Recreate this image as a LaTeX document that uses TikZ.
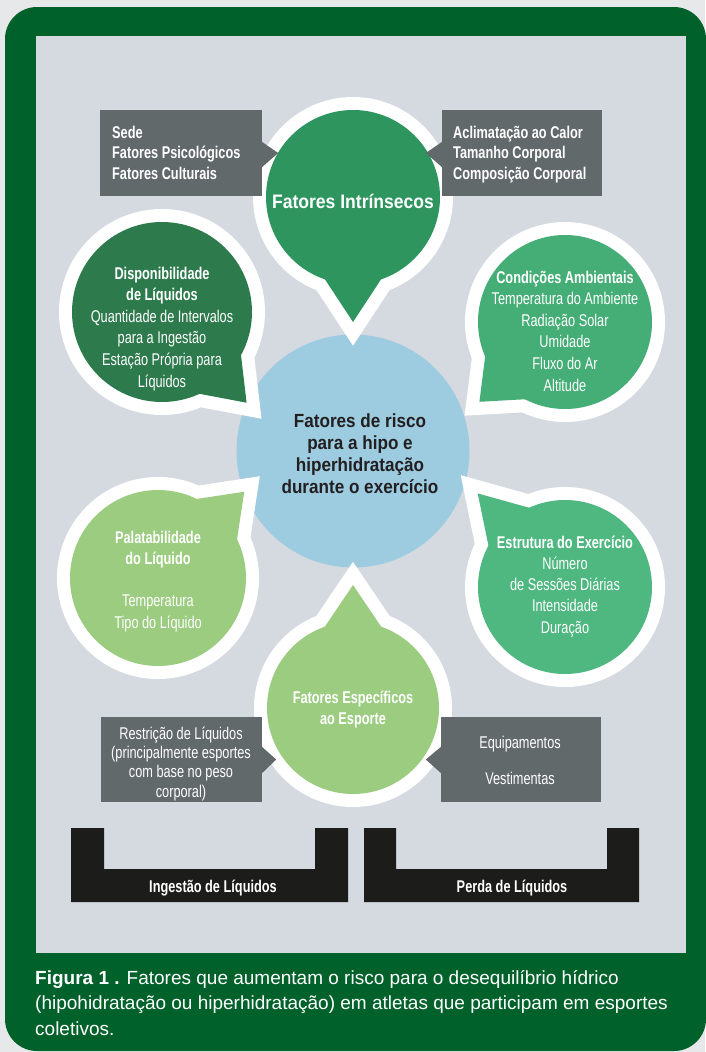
\documentclass[tikz,border=0pt]{standalone}
\usepackage{fontspec}
\setmainfont{Liberation Sans}
\newfontfamily\condfont{Liberation Sans}[FakeStretch=0.75]
\newfontfamily\semicondfont{Liberation Sans}[FakeStretch=0.9]
\usetikzlibrary{calc}

\definecolor{pagebg}{RGB}{231,232,234}
\definecolor{framegreen}{RGB}{0,98,42}
\definecolor{panelgray}{RGB}{213,217,224}
\definecolor{boxgray}{RGB}{98,105,107}
\definecolor{intrgreen}{RGB}{47,149,95}
\definecolor{dispgreen}{RGB}{45,122,76}
\definecolor{ambgreen}{RGB}{69,174,118}
\definecolor{exgreen}{RGB}{78,184,128}
\definecolor{lightgreen}{RGB}{155,204,128}
\definecolor{hubblue}{RGB}{157,203,224}
\definecolor{hubtext}{RGB}{35,31,32}
\definecolor{bracketblack}{RGB}{28,29,27}

% speech bubble: centre x, centre y, tail angle, radius, tail tip distance,
% tail half width at the rim, fill colour; white rim 13pt wide
\newcommand\speechbubble[7]{%
  \begin{scope}[shift={(#1,#2)},rotate=#3]
    \pgfmathsetmacro\halfang{atan2(#6,#5-#4)}
    \pgfmathsetmacro\basex{#4-30}
    \pgfmathsetmacro\basew{#6*(#5-#4+30)/(#5-#4)}
    \pgfmathsetmacro\rimtip{#5+13/sin(\halfang)}
    \pgfmathsetmacro\rimw{\basew+13/cos(\halfang)}
    \pgfmathsetmacro\rimr{#4+13}
    \fill[white] (0,0) circle[radius=\rimr pt];
    \fill[white] (\rimtip,0) -- (\basex,\rimw) -- (\basex,-\rimw) -- cycle;
    \fill[#7] (0,0) circle[radius=#4pt];
    \fill[#7] (#5,0) -- (\basex,\basew) -- (\basex,-\basew) -- cycle;
  \end{scope}}

% multi-line nodes below are placed by the baseline of their last line
\tikzset{
  infobox/.style={fill=boxgray, inner sep=0pt, minimum height=86pt},
  boxbold/.style={font=\condfont\bfseries\fontsize{17}{20.5}\selectfont, text=white, inner sep=0pt},
  boxplain/.style={font=\condfont\fontsize{17}{19.3}\selectfont, text=white, inner sep=0pt, align=center},
  bubbletext/.style={font=\condfont\fontsize{17}{21.6}\selectfont, text=white, inner sep=0pt, align=center, anchor=base},
  bracketlabel/.style={font=\condfont\bfseries\fontsize{17}{20}\selectfont, text=white, inner sep=0pt, anchor=base},
}

\begin{document}
\begin{tikzpicture}[x=1pt,y=-1pt]
\useasboundingbox (0,0) rectangle (705,1052);
\fill[pagebg] (0,0) rectangle (705,1052);
\fill[framegreen, rounded corners=32pt] (5,7) rectangle (706,1051);
\fill[panelgray] (36,36) rectangle (686,953);

% central circle
\node[circle, fill=hubblue, minimum size=233pt, inner sep=0pt] (hub) at (353,451) {};

% surrounding speech bubbles
\speechbubble{353}{197}{-90}{87}{125}{25}{intrgreen}
\speechbubble{162}{312}{-47}{90}{124}{25}{dispgreen}
\speechbubble{565}{322}{-137}{87}{117}{25}{ambgreen}
\speechbubble{158}{578}{45}{88}{122}{25}{lightgreen}
\speechbubble{565}{587}{133}{87}{128}{25}{exgreen}
\speechbubble{353}{708}{90}{86}{123}{25}{lightgreen}

% grey side boxes with pointers
\node[infobox, minimum width=162pt] (sedebox) at (181,153) {};
\fill[boxgray] ([yshift=11pt]sedebox.east) -- ([xshift=16pt]sedebox.east) -- ([yshift=-14pt]sedebox.east) -- cycle;
\node[infobox, minimum width=160pt] (calorbox) at (522,153) {};
\fill[boxgray] ([yshift=11pt]calorbox.west) -- ([xshift=-16pt]calorbox.west) -- ([yshift=-14pt]calorbox.west) -- cycle;
\node[infobox, minimum width=161pt, minimum height=85pt] (restrbox) at (181.5,759.5) {};
\fill[boxgray] ([yshift=12.5pt]restrbox.east) -- ([xshift=14pt]restrbox.east) -- ([yshift=-13.5pt]restrbox.east) -- cycle;
\node[infobox, minimum width=160pt, minimum height=85pt] (equipbox) at (521,759.5) {};
\fill[boxgray] ([yshift=12.5pt]equipbox.west) -- ([xshift=-15pt]equipbox.west) -- ([yshift=-13.5pt]equipbox.west) -- cycle;

\node[boxbold, anchor=base west, align=left] (sedetext) at (112,179)
  {Sede\\Fatores Psicológicos\\Fatores Culturais};
\node[boxbold, anchor=base west, align=left] (calortext) at (453,179)
  {Aclimatação ao Calor\\Tamanho Corporal\\Composição Corporal};
\node[boxplain, anchor=base] (restrtext) at (181,797)
  {Restrição de Líquidos\\(principalmente esportes\\com base no peso\\corporal)};
\node[boxplain, anchor=base] (equiptext) at (520,748) {Equipamentos};
\node[boxplain, anchor=base] (vesttext) at (520,784) {Vestimentas};

% bubble texts
\node[font=\semicondfont\bfseries\fontsize{19.5}{22}\selectfont, text=white, inner sep=0pt, anchor=base] (intrtext) at (353,208) {Fatores Intrínsecos};
\node[bubbletext] (disptext) at (162,387)
  {\textbf{Disponibilidade}\\\textbf{de Líquidos}\\Quantidade de Intervalos\\para a Ingestão\\Estação Própria para\\Líquidos};
\node[bubbletext] (ambtext) at (565,391)
  {\textbf{Condições Ambientais}\\Temperatura do Ambiente\\Radiação Solar\\Umidade\\Fluxo do Ar\\Altitude};
\node[bubbletext, font=\condfont\fontsize{17}{21.25}\selectfont] (paltext) at (158,628)
  {\textbf{Palatabilidade}\\\textbf{do Líquido}\\[21.25pt]Temperatura\\Tipo do Líquido};
\node[bubbletext, font=\condfont\fontsize{17}{21.25}\selectfont] (extext) at (565,633)
  {\textbf{Estrutura do Exercício}\\Número\\de Sessões Diárias\\Intensidade\\Duração};
\node[bubbletext, font=\condfont\bfseries\fontsize{17}{21}\selectfont] (esptext) at (353,724)
  {Fatores Específicos\\ao Esporte};

% central text
\node[font=\semicondfont\bfseries\fontsize{19}{21.8}\selectfont, text=hubtext, inner sep=0pt, align=center, anchor=base] (hubtext) at (360,493)
  {Fatores de risco\\para a hipo e\\hiperhidratação\\durante o exercício};

% brackets
\fill[bracketblack] (71,828) -- (104,828) -- (104,869) -- (315,869) -- (315,828) -- (348,828) -- (348,902) -- (71,902) -- cycle;
\fill[bracketblack] (364,828) -- (396,828) -- (396,869) -- (607,869) -- (607,828) -- (639,828) -- (639,902) -- (364,902) -- cycle;
\node[bracketlabel] (ingestlabel) at (213,892) {Ingestão de Líquidos};
\node[bracketlabel] (perdalabel) at (512,892) {Perda de Líquidos};

% caption
\node[font=\fontsize{19}{25.5}\selectfont, text=white, inner sep=0pt, align=left, anchor=base west] (caption) at (35,1035)
  {\textbf{Figura 1 .} Fatores que aumentam o risco para o desequilíbrio hídrico\\(hipohidratação ou hiperhidratação) em atletas que participam em esportes\\coletivos.};
\end{tikzpicture}
\end{document}
